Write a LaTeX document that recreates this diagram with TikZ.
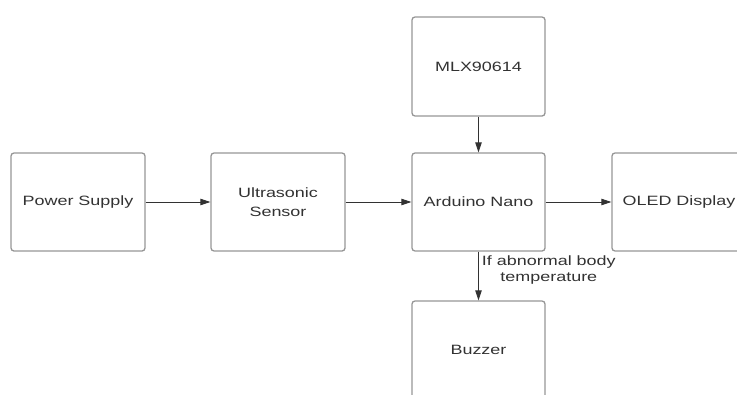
\documentclass[tikz,border=0pt]{standalone}
\usepackage{fontspec}
\newfontfamily\diag[FakeStretch=1.33]{Liberation Sans}
\usetikzlibrary{arrows.meta}
\definecolor{boxline}{RGB}{150,150,150}
\definecolor{txt}{RGB}{50,50,50}
\definecolor{arr}{RGB}{50,50,50}
\begin{document}
\begin{tikzpicture}[x=1pt,y=-1pt,
  blockbox/.style={draw=boxline,line width=1.3pt,rounded corners=3pt,minimum width=134pt,minimum height=98pt,
    inner sep=0pt,align=center,text=txt,font=\diag\fontsize{13.5}{19}\selectfont},
  conn/.style={draw=arr,line width=0.9pt,-{Triangle[length=10pt,width=6.5pt]}},
  lbl/.style={text=txt,align=center,font=\diag\fontsize{13.5}{15.5}\selectfont,inner sep=0pt}]
\useasboundingbox (0,0) rectangle (737,394);
\clip (0,0) rectangle (737,394);
\node[blockbox] (ps) at (78,202) {Power Supply};
\node[blockbox] (us) at (278,202) {Ultrasonic\\Sensor};
\node[blockbox,minimum width=133pt] (an) at (478.5,202) {Arduino Nano};
\node[blockbox,minimum width=133pt,minimum height=99pt] (mlx) at (478.5,66.5) {MLX90614};
\node[blockbox] (oled) at (679,202) {OLED Display};
\node[blockbox,minimum width=133pt] (bz) at (478.5,350) {Buzzer};
\draw[conn] (ps) -- (us);
\draw[conn] (us) -- (an);
\draw[conn] (an) -- (oled);
\draw[conn] (mlx) -- (an);
\draw[conn] (an) -- node[lbl,anchor=west,xshift=3pt,yshift=6pt] {If abnormal body\\temperature} (bz);
\end{tikzpicture}
\end{document}
